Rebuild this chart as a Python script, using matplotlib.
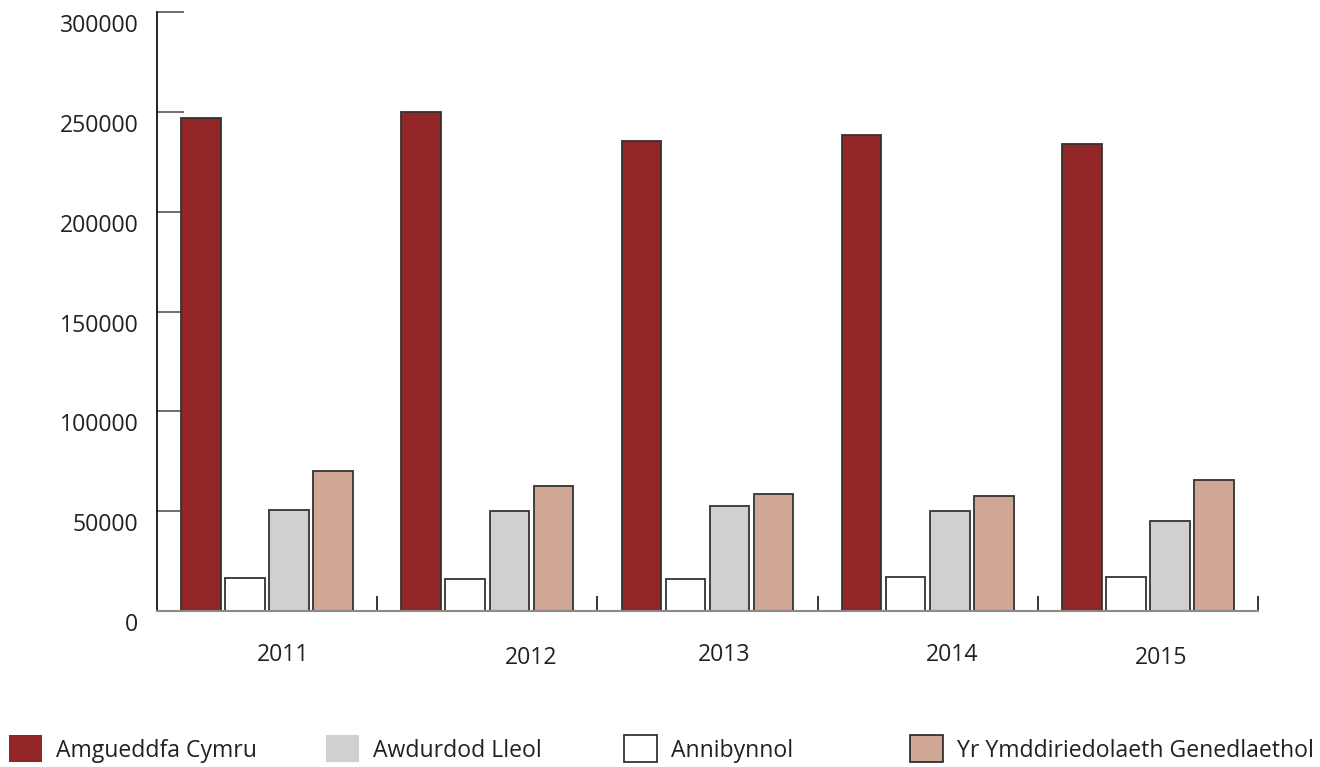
import matplotlib
matplotlib.use("Agg")
import matplotlib.pyplot as plt
import matplotlib.transforms as mtransforms
from matplotlib.patches import Patch
import numpy as np

plt.rcParams['font.family'] = ['Open Sans', 'DejaVu Sans']

years = ["2011", "2012", "2013", "2014", "2015"]
amgueddfa = [247000, 250000, 235400, 238400, 234000]
annibynnol = [16400, 15900, 16200, 16900, 17200]
awdurdod = [50700, 50200, 52700, 50200, 45200]
ymddiriedolaeth = [70100, 62800, 58800, 57800, 65800]
yticks = [0, 50000, 100000, 150000, 200000, 250000, 300000]

series_names = ["Amgueddfa Cymru", "Annibynnol", "Awdurdod Lleol", "Yr Ymddiriedolaeth Genedlaethol"]
series_vals = [amgueddfa, annibynnol, awdurdod, ymddiriedolaeth]
colors = ["#922626", "#ffffff", "#d0d0d0", "#d0a794"]

FS = 16.6

fig = plt.figure(figsize=(13.2, 7.67), dpi=100)
ax = fig.add_axes([157/1320, 1 - 611/767, (1258-157)/1320, (611-12)/767])

x = np.arange(len(years))
bw = 0.18
step = 0.2
for i, (vals, c) in enumerate(zip(series_vals, colors)):
    ax.bar(x + (i - 1.5) * step, vals, width=bw, color=c, edgecolor="#333333",
           linewidth=1.3, zorder=2)

ax.set_xlim(-0.5, len(years) - 0.5)
ax.set_ylim(0, 300000)
ax.set_axisbelow(True)

for s in ["top", "right"]:
    ax.spines[s].set_visible(False)
ax.spines["left"].set_color("black")
ax.spines["left"].set_linewidth(1.2)
ax.spines["bottom"].set_color("#8a8a8a")
ax.spines["bottom"].set_linewidth(1.5)

ax.set_yticks(yticks)
ax.set_yticklabels([str(v) for v in yticks], fontsize=FS, color="#222222")
ax.tick_params(axis="y", direction="in", length=19.5, width=1.2, color="#555555", pad=13.5)
for lab in ax.get_yticklabels():
    lab.set_transform(lab.get_transform() + mtransforms.ScaledTranslation(0, -0.11, fig.dpi_scale_trans))

# category labels (slightly offset as in the reference)
xoff = [0.073, 0.2, 0.077, 0.11, 0.06]
yoff_px = [0, -3, 0, 0, -3]
ax.set_xticks(x + np.array(xoff))
ax.set_xticklabels(years, fontsize=FS, color="#222222")
ax.tick_params(axis="x", which="major", length=0, pad=23)
for lab, dy in zip(ax.get_xticklabels(), yoff_px):
    lab.set_transform(lab.get_transform() + mtransforms.ScaledTranslation(0, dy/100, fig.dpi_scale_trans))

ax.set_xticks(x + 0.5, minor=True)
ax.tick_params(axis="x", which="minor", direction="in", length=11, width=1.1, color="black")

# legend
legend_order = [0, 2, 1, 3]
legend_x = [10/1320, 327/1320, 625/1320, 911/1320]
for k, xi in zip(legend_order, legend_x):
    ec = "#222222" if k in (1, 3) else "none"
    h = Patch(facecolor=colors[k], edgecolor=ec, linewidth=1.2)
    leg = fig.legend([h], [series_names[k]], loc="center left",
                     bbox_to_anchor=(xi - 0.0005, 1 - 749/767), frameon=False,
                     fontsize=FS, handlelength=1.43, handleheight=1.43,
                     handletextpad=0.6, borderpad=0, borderaxespad=0)
    for t in leg.get_texts():
        t.set_color("#222222")

fig.savefig("out.png", dpi=100)
